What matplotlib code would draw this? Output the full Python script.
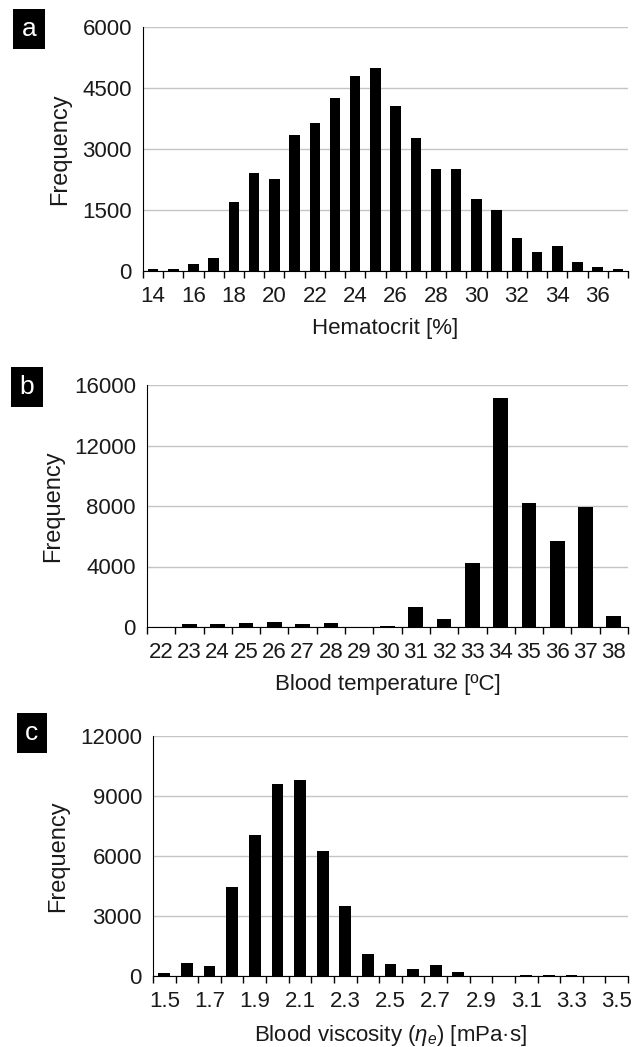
import matplotlib
matplotlib.use("Agg")
import matplotlib.pyplot as plt
from matplotlib.ticker import FixedLocator, NullFormatter

plt.rcParams['font.family'] = ['Liberation Sans', 'DejaVu Sans']
plt.rcParams['mathtext.fontset'] = 'custom'
plt.rcParams['mathtext.it'] = 'Liberation Sans:italic'
plt.rcParams['mathtext.rm'] = 'Liberation Sans'

# hematocrit histogram
hct_bins = list(range(14, 38))
hct_freq = [40, 40, 160, 315, 1700, 2420, 2270, 3350, 3650, 4260, 4800, 4980,
            4060, 3280, 2510, 2510, 1780, 1500, 800, 460, 615, 220, 105, 50]

# blood temperature histogram
temp_bins = list(range(22, 39))
temp_freq = [0, 170, 170, 260, 350, 170, 260, 0, 80, 1320, 520, 4220,
             15150, 8220, 5660, 7940, 760]

# blood viscosity histogram
visc_bins = ['1.5', '1.6', '1.7', '1.8', '1.9', '2.0', '2.1', '2.2', '2.3', '2.4',
             '2.5', '2.6', '2.7', '2.8', '2.9', '3.0', '3.1', '3.2', '3.3', '3.4', '3.5']
visc_freq = [160, 660, 500, 4430, 7070, 9620, 9790, 6240, 3520, 1090,
             620, 370, 540, 180, 0, 0, 60, 60, 60, 0, 0]

W, H = 638, 1047
TXT = '#1a1a1a'
fig = plt.figure(figsize=(W / 100, H / 100), dpi=100)


def px_axes(left, top, right, bottom):
    return fig.add_axes([left / W, 1 - bottom / H, (right - left) / W, (bottom - top) / H])


def histo(ax, labels, freq, ymax, ystep, label_every, xlabel):
    n = len(freq)
    x = list(range(n))
    ax.bar(x, freq, width=0.52, color='black', zorder=3)
    ax.set_xlim(-0.5, n - 0.5)
    ax.set_ylim(0, ymax)
    ax.set_yticks(range(0, ymax + 1, ystep))
    ax.grid(axis='y', color='#c4c4c4', lw=1, zorder=0)
    for s in ('top', 'right'):
        ax.spines[s].set_visible(False)
    ax.spines['left'].set_color('black')
    ax.spines['bottom'].set_color('black')
    ax.tick_params(axis='y', length=0, labelsize=16, pad=8, colors=TXT)
    # category labels, with tick marks drawn on the category boundaries
    ax.set_xticks(x[::label_every])
    ax.set_xticklabels([str(l) for l in labels][::label_every])
    ax.tick_params(axis='x', which='major', length=0, labelsize=16, pad=11, colors=TXT)
    ax.xaxis.set_minor_locator(FixedLocator([i - 0.5 for i in range(n + 1)]))
    ax.xaxis.set_minor_formatter(NullFormatter())
    ax.tick_params(axis='x', which='minor', length=5, width=1, direction='out', color='black')
    ax.set_xlabel(xlabel, fontsize=16, color=TXT, labelpad=8)


def panel_tag(x, y, letter):
    fig.text(x / W, 1 - y / H, letter, color='white', fontsize=19, ha='center', va='center',
             bbox=dict(boxstyle='square,pad=0.32', fc='black', ec='none'))


ax_a = px_axes(143, 27, 628, 271)
histo(ax_a, hct_bins, hct_freq, 6000, 1500, 2, 'Hematocrit [%]')

ax_b = px_axes(147, 385, 628, 627)
histo(ax_b, temp_bins, temp_freq, 16000, 4000, 1, 'Blood temperature [ºC]')

ax_c = px_axes(153, 736, 628, 976)
histo(ax_c, visc_bins, visc_freq, 12000, 3000, 2, r'Blood viscosity ($\mathit{\eta_e}$) [mPa·s]')

for ax, xpos in ((ax_a, 60), (ax_b, 53), (ax_c, 58)):
    pos = ax.get_position()
    fig.text(xpos / W, pos.y0 + pos.height / 2, 'Frequency', rotation=90,
             fontsize=17, ha='center', va='center', color=TXT)

panel_tag(29, 29, 'a')
panel_tag(27, 387, 'b')
panel_tag(32, 733, 'c')

fig.savefig('out.png', dpi=100, facecolor='white')
